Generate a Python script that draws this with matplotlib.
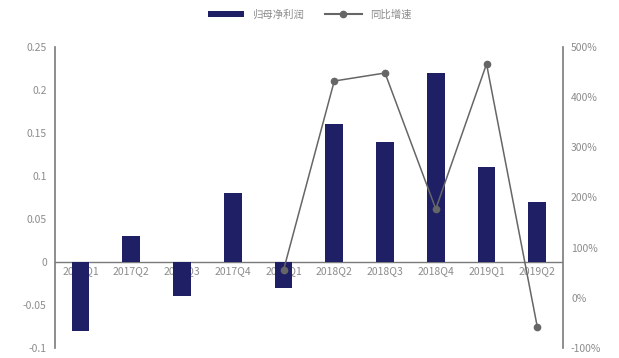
import matplotlib
matplotlib.use("Agg")
import matplotlib.pyplot as plt
from matplotlib.lines import Line2D
from matplotlib.patches import Patch

plt.rcParams['font.family'] = ['Noto Sans CJK SC', 'DejaVu Sans']

# data
quarters = ['2017Q1', '2017Q2', '2017Q3', '2017Q4', '2018Q1',
            '2018Q2', '2018Q3', '2018Q4', '2019Q1', '2019Q2']
net_profit = [-0.08, 0.03, -0.04, 0.08, -0.03, 0.16, 0.14, 0.22, 0.11, 0.07]
growth_quarters = quarters[4:]
growth_pct = [55, 432, 448, 177, 466, -58]

left_ticks = [-0.1, -0.05, 0, 0.05, 0.1, 0.15, 0.2, 0.25]
left_labels = ['-0.1', '-0.05', '0', '0.05', '0.1', '0.15', '0.2', '0.25']
right_ticks = [-100, 0, 100, 200, 300, 400, 500]
right_labels = ['-100%', '0%', '100%', '200%', '300%', '400%', '500%']

bar_color = '#1f1f66'
line_color = '#666666'
axis_color = '#7a7a7a'
text_color = '#8c8c8c'

fig = plt.figure(figsize=(6.19, 3.58), dpi=100)
ax1 = fig.add_axes([0.089, 0.028, 0.82, 0.841])
x = list(range(len(quarters)))
ax1.bar(x, net_profit, width=0.35, color=bar_color, zorder=3)
ax1.axhline(0, color=axis_color, linewidth=1.0, zorder=2)
ax1.set_xlim(-0.5, len(quarters) - 0.5)
ax1.set_ylim(-0.1, 0.25)
ax1.set_yticks(left_ticks)
ax1.set_yticklabels(left_labels)
ax1.set_xticks([])
for i, q in enumerate(quarters):
    ax1.annotate(q, (i, 0), xytext=(0, -3), textcoords='offset points',
                 ha='center', va='top', fontsize=7.5, color=text_color, zorder=1)

ax2 = ax1.twinx()
gx = [quarters.index(q) for q in growth_quarters]
ax2.plot(gx, growth_pct, color=line_color, linewidth=1.1, marker='o',
         markersize=4.5, zorder=4)
ax2.set_ylim(-100, 500)
ax2.set_yticks(right_ticks)
ax2.set_yticklabels(right_labels)

for ax in (ax1, ax2):
    ax.spines['top'].set_visible(False)
    ax.spines['bottom'].set_visible(False)
    ax.spines['left'].set_color(axis_color)
    ax.spines['right'].set_color(axis_color)
    ax.spines['left'].set_linewidth(1.2)
    ax.spines['right'].set_linewidth(1.2)
    ax.tick_params(axis='y', length=0, labelsize=7.5, labelcolor=text_color, pad=6)
ax1.spines['right'].set_visible(False)
ax2.spines['left'].set_visible(False)

handles = [Patch(facecolor=bar_color, label='归母净利润'),
           Line2D([0], [0], color=line_color, marker='o', markersize=4.5, label='同比增速')]
fig.legend(handles=handles, loc='upper center', bbox_to_anchor=(0.5, 1.0), ncol=2,
           frameon=False, fontsize=7.5, labelcolor=text_color, handlelength=3.5,
           handleheight=0.5, columnspacing=2.0)

fig.savefig('out.png', dpi=100)
